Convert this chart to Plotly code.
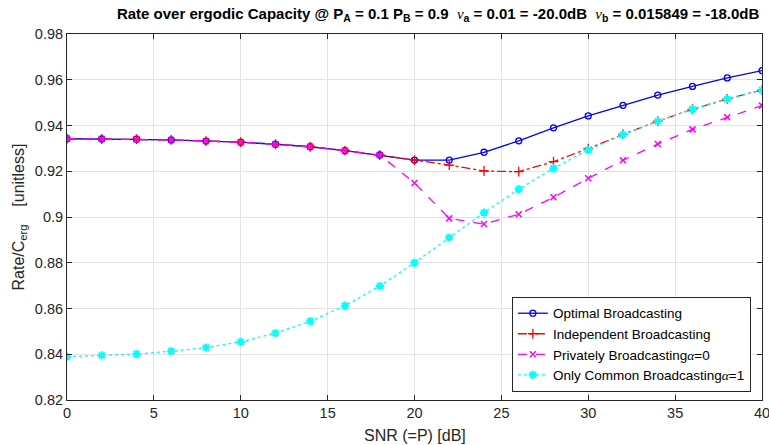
import plotly.graph_objects as go

snr_db = [0, 2, 4, 6, 8, 10, 12, 14, 16, 18, 20, 22, 24, 26, 28, 30, 32, 34, 36, 38, 40]

optimal = [0.9342, 0.9341, 0.9340, 0.9337, 0.9332, 0.9327, 0.9318, 0.9307, 0.9290, 0.9271,
           0.9249, 0.9249, 0.9283, 0.9333, 0.9390, 0.9442, 0.9488, 0.9533, 0.9571, 0.9608, 0.9640]
independent = [0.9342, 0.9341, 0.9340, 0.9337, 0.9332, 0.9327, 0.9318, 0.9307, 0.9290, 0.9271,
               0.9249, 0.9227, 0.9201, 0.9198, 0.9242, 0.9299, 0.9361, 0.9419, 0.9471, 0.9516, 0.9555]
private = [0.9342, 0.9341, 0.9340, 0.9337, 0.9332, 0.9327, 0.9318, 0.9307, 0.9290, 0.9271,
           0.9149, 0.8994, 0.8969, 0.9012, 0.9086, 0.9169, 0.9248, 0.9319, 0.9383, 0.9436, 0.9487]
common = [0.8389, 0.8395, 0.8401, 0.8413, 0.8429, 0.8454, 0.8492, 0.8544, 0.8612, 0.8698,
          0.8800, 0.8910, 0.9019, 0.9121, 0.9213, 0.9293, 0.9360, 0.9418, 0.9471, 0.9516, 0.9555]

x_ticks = [0, 5, 10, 15, 20, 25, 30, 35, 40]
y_ticks = [0.82, 0.84, 0.86, 0.88, 0.90, 0.92, 0.94, 0.96, 0.98]
y_ticktext = ["0.82", "0.84", "0.86", "0.88", "0.9", "0.92", "0.94", "0.96", "0.98"]

FONT = "Liberation Sans, Arial, Helvetica, sans-serif"
SERIF = "Liberation Serif, DejaVu Serif, serif"
TXT = "#262626"

def greek(ch):
    return f"<span style='font-family:{SERIF}'><i>{ch}</i></span>"

fig = go.Figure()
fig.add_trace(go.Scatter(
    x=snr_db, y=optimal, mode="lines+markers", name="Optimal Broadcasting",
    line=dict(color="#0000ff", width=1.3, dash="solid"),
    marker=dict(symbol="circle-open", size=6, color="#0000ff", line=dict(width=1.3)),
))
fig.add_trace(go.Scatter(
    x=snr_db, y=independent, mode="lines+markers", name="Independent Broadcasting",
    line=dict(color="#ff0000", width=1.3, dash="dashdot"),
    marker=dict(symbol="cross-thin-open", size=7, color="#ff0000", line=dict(width=1.3, color="#ff0000")),
))
fig.add_trace(go.Scatter(
    x=snr_db, y=private, mode="lines+markers", name="Privately Broadcasting" + greek("α") + "=0",
    line=dict(color="#ff00ff", width=1.3, dash="dash"),
    marker=dict(symbol="x-thin-open", size=6, color="#ff00ff", line=dict(width=1.5, color="#ff00ff")),
))
fig.add_trace(go.Scatter(
    x=snr_db, y=common, mode="lines+markers", name="Only Common Broadcasting" + greek("α") + "=1",
    line=dict(color="#00ffff", width=1.3, dash="dot"),
    marker=dict(symbol="asterisk-open", size=7, color="#00ffff", line=dict(width=2, color="#00ffff")),
))

axis_common = dict(
    showline=True, linecolor=TXT, linewidth=1, mirror="ticks",
    ticks="inside", ticklen=5, tickcolor=TXT, tickwidth=1,
    showgrid=True, gridcolor="#e3e3e3", gridwidth=1,
    zeroline=False, tickfont=dict(family=FONT, size=14.5, color=TXT),
    ticklabeloverflow="allow",
)

fig.update_xaxes(range=[0, 40], tickvals=x_ticks, automargin=False, **axis_common)
fig.update_yaxes(
    range=[0.82, 0.98], tickvals=y_ticks, ticktext=y_ticktext, automargin=True,
    title=dict(text="Rate/C<sub>erg</sub>    [unitless]", font=dict(family=FONT, size=16, color=TXT), standoff=6),
    **axis_common,
)

fig.add_annotation(
    text="SNR (=P) [dB]", xref="paper", yref="paper", x=0.5, y=0,
    xanchor="center", yanchor="middle", yshift=-35, showarrow=False,
    font=dict(family=FONT, size=16, color=TXT),
)

title_text = ("<b>Rate over ergodic Capacity @ P<sub>A</sub> = 0.1 P<sub>B</sub> = 0.9  </b>"
              + greek("ν") + "<b><sub>a</sub> = 0.01 = -20.0dB  </b>"
              + greek("ν") + "<b><sub>b</sub> = 0.015849 = -18.0dB</b>")

fig.update_layout(
    width=769, height=445,
    margin=dict(l=67, r=7, t=34, b=45, autoexpand=False),
    plot_bgcolor="white", paper_bgcolor="white",
    title=dict(
        text=title_text,
        font=dict(family=FONT, size=15, color="black"),
        x=0.534, xref="paper", xanchor="center", y=0.982, yref="container", yanchor="top",
    ),
    legend=dict(
        x=0.984, y=0.022, xanchor="right", yanchor="bottom",
        bgcolor="white", bordercolor=TXT, borderwidth=1,
        font=dict(family=FONT, size=13.5, color="black"),
        tracegroupgap=0, itemwidth=30,
    ),
    showlegend=True,
)

# remove the browser's default 8px body margin so the 769x445 figure fills the window exactly
fig.write_html("out.html", config={"displayModeBar": False},
               post_script="document.body.style.margin='0';")
